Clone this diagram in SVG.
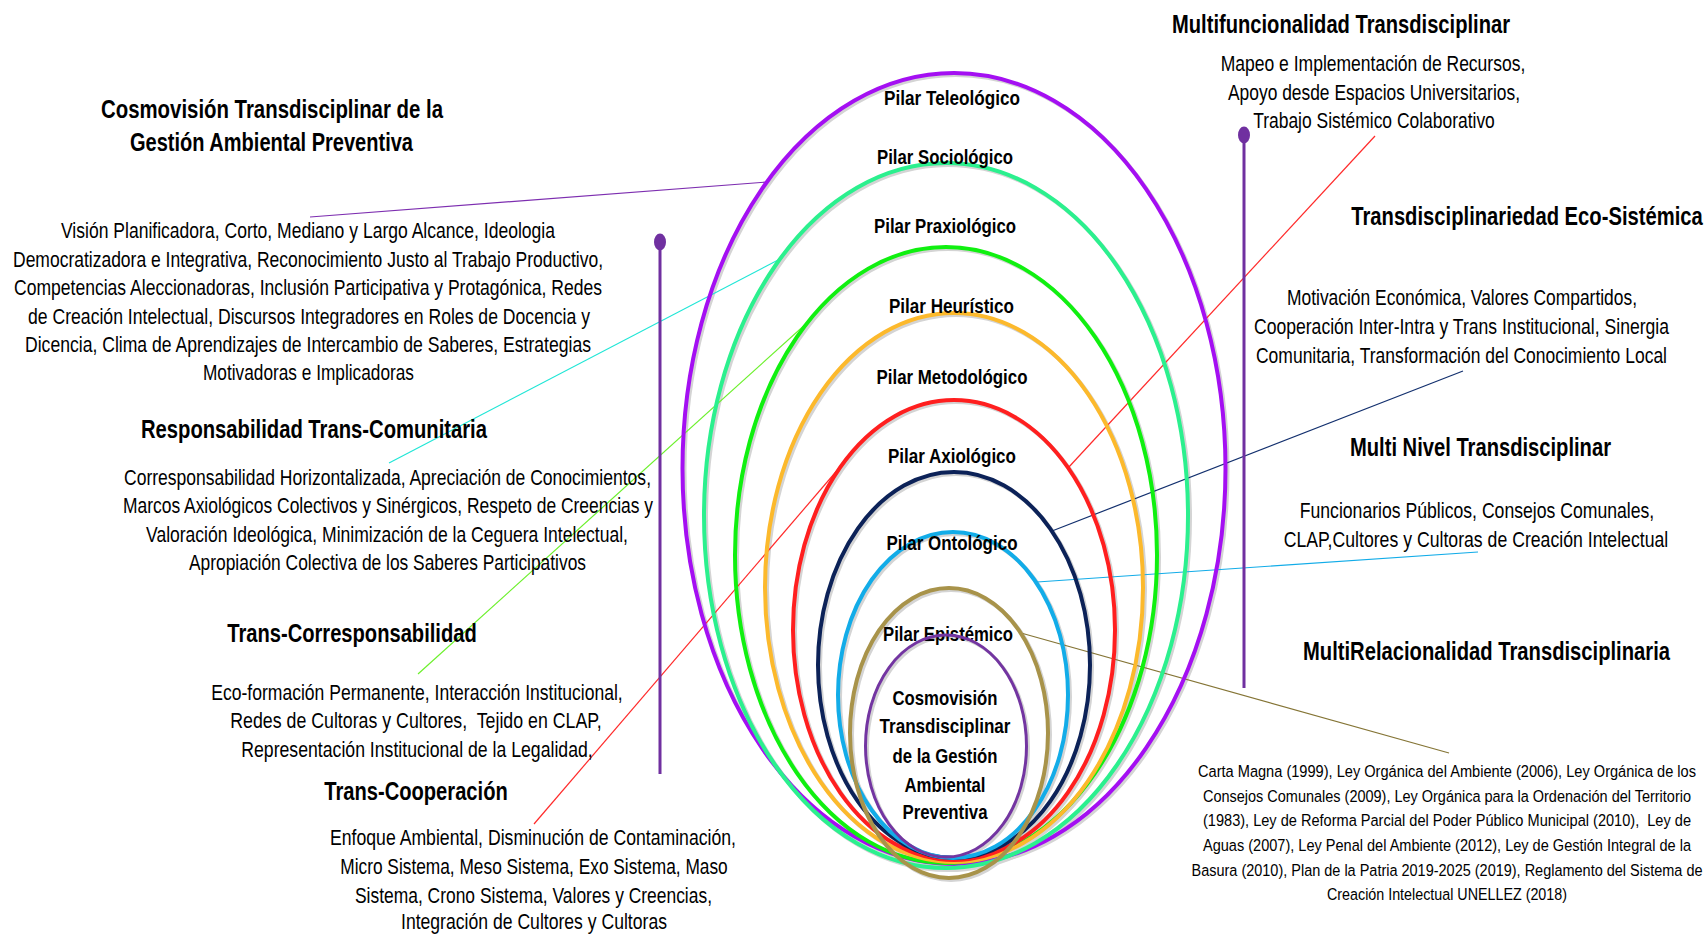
<svg xmlns="http://www.w3.org/2000/svg" width="1708" height="935" viewBox="0 0 1708 935">
<defs>
<style>
text{font-family:"Liberation Sans",Arial,sans-serif;fill:#000;text-anchor:middle}
.t{font-size:20.5px;font-weight:bold}
.b{font-size:18px}
.s{font-size:13.93px}
.p{font-size:17.2px;font-weight:bold}
.ring{fill:none;stroke-width:4}
.sh{fill:none;stroke:#d4d4d4;stroke-width:4}
.con{stroke-width:1.2;fill:none}
.vline{stroke:#7030A0;stroke-width:3}
</style>
</defs>
<rect width="1708" height="935" fill="#fff"/>

<g id="shadows" transform="translate(2,2)">
<ellipse class="sh" cx="954" cy="468.5" rx="271.5" ry="395.5"/>
<ellipse class="sh" cx="946" cy="515.5" rx="242" ry="352.5"/>
<ellipse class="sh" cx="946" cy="555" rx="211" ry="308"/>
<ellipse class="sh" cx="954" cy="587.5" rx="189" ry="274.5"/>
<ellipse class="sh" cx="954" cy="630" rx="161" ry="230"/>
<ellipse class="sh" cx="954" cy="665" rx="136" ry="193"/>
<ellipse class="sh" cx="953" cy="695" rx="115" ry="163"/>
<ellipse class="sh" cx="949" cy="733" rx="99" ry="145"/>
<ellipse class="sh" cx="946" cy="746" rx="80.5" ry="111" style="stroke-width:3"/>
</g>

<g id="connectors">
<line class="con" x1="310" y1="217" x2="767" y2="182" stroke="#7D2EB0"/>
<line class="con" x1="389" y1="463" x2="780" y2="259" stroke="#20E6D6"/>
<line class="con" x1="418" y1="674" x2="808" y2="322" stroke="#6CF02C"/>
<line class="con" x1="534" y1="824" x2="840" y2="467" stroke="#FF2A2A"/>
<line class="con" x1="1375" y1="136" x2="1068" y2="468" stroke="#FF2A2A"/>
<line class="con" x1="1463" y1="371" x2="1052" y2="531" stroke="#13306E"/>
<line class="con" x1="1478" y1="552" x2="1037" y2="582" stroke="#12ACE8"/>
<line class="con" x1="1021" y1="633" x2="1449" y2="753" stroke="#857536"/>
</g>

<g id="axis-left">
<line class="vline" x1="660" y1="242" x2="660" y2="774"/>
<ellipse cx="660" cy="242" rx="6" ry="8.5" fill="#7030A0"/>
</g>
<g id="axis-right">
<line class="vline" x1="1244" y1="135" x2="1244" y2="688"/>
<ellipse cx="1244" cy="135" rx="6" ry="8.5" fill="#7030A0"/>
</g>

<g id="pilar-teleologico">
<ellipse class="ring" cx="954" cy="468.5" rx="271.5" ry="395.5" stroke="#A40FF2"/>
<text class="p" transform="scale(1,1.22)" x="952" y="86.07" textLength="136" lengthAdjust="spacingAndGlyphs">Pilar Teleológico</text>
</g>
<g id="pilar-sociologico">
<ellipse class="ring" cx="946" cy="515.5" rx="242" ry="352.5" stroke="#2BF08E"/>
<text class="p" transform="scale(1,1.22)" x="945" y="134.43" textLength="136" lengthAdjust="spacingAndGlyphs">Pilar Sociológico</text>
</g>
<g id="pilar-praxiologico">
<ellipse class="ring" cx="946" cy="555" rx="211" ry="308" stroke="#10F010"/>
<text class="p" transform="scale(1,1.22)" x="945" y="190.98" textLength="142" lengthAdjust="spacingAndGlyphs">Pilar Praxiológico</text>
</g>
<g id="pilar-heuristico">
<ellipse class="ring" cx="954" cy="587.5" rx="189" ry="274.5" stroke="#FCB92C"/>
<text class="p" transform="scale(1,1.22)" x="951.5" y="256.56" textLength="125" lengthAdjust="spacingAndGlyphs">Pilar Heurístico</text>
</g>
<g id="pilar-metodologico">
<ellipse class="ring" cx="954" cy="630" rx="161" ry="230" stroke="#FF1F1F"/>
<text class="p" transform="scale(1,1.22)" x="952" y="314.75" textLength="151" lengthAdjust="spacingAndGlyphs">Pilar Metodológico</text>
</g>
<g id="pilar-axiologico">
<ellipse class="ring" cx="954" cy="665" rx="136" ry="193" stroke="#0C2258"/>
<text class="p" transform="scale(1,1.22)" x="952" y="379.51" textLength="128" lengthAdjust="spacingAndGlyphs">Pilar Axiológico</text>
</g>
<g id="pilar-ontologico">
<ellipse class="ring" cx="953" cy="695" rx="115" ry="163" stroke="#12ACE8"/>
<text class="p" transform="scale(1,1.22)" x="952" y="450.82" textLength="131" lengthAdjust="spacingAndGlyphs">Pilar Ontológico</text>
</g>
<g id="pilar-epistemico">
<ellipse class="ring" cx="949" cy="733" rx="99" ry="145" stroke="#A8934A"/>
<text class="p" transform="scale(1,1.22)" x="948" y="525.41" textLength="130" lengthAdjust="spacingAndGlyphs">Pilar Epistémico</text>
</g>
<g id="nucleo">
<ellipse class="ring" cx="946" cy="746" rx="80.5" ry="111" stroke="#7335A1" style="stroke-width:3"/>
<text class="p" transform="scale(1,1.22)" x="945" y="577.87" textLength="105" lengthAdjust="spacingAndGlyphs">Cosmovisión</text>
<text class="p" transform="scale(1,1.22)" x="945" y="600.82" textLength="131" lengthAdjust="spacingAndGlyphs">Transdisciplinar</text>
<text class="p" transform="scale(1,1.22)" x="945" y="625.41" textLength="105" lengthAdjust="spacingAndGlyphs">de la Gestión</text>
<text class="p" transform="scale(1,1.22)" x="945" y="649.18" textLength="81" lengthAdjust="spacingAndGlyphs">Ambiental</text>
<text class="p" transform="scale(1,1.22)" x="945" y="671.31" textLength="85" lengthAdjust="spacingAndGlyphs">Preventiva</text>
</g>

<g id="cosmovision">
<text class="t" transform="scale(1,1.22)" x="272" y="96.72" textLength="342" lengthAdjust="spacingAndGlyphs">Cosmovisión Transdisciplinar de la</text>
<text class="t" transform="scale(1,1.22)" x="271.5" y="123.77" textLength="283" lengthAdjust="spacingAndGlyphs">Gestión Ambiental Preventiva</text>
<text class="b" transform="scale(1,1.22)" x="308" y="195.08" textLength="494" lengthAdjust="spacingAndGlyphs">Visión Planificadora, Corto, Mediano y Largo Alcance, Ideologia</text>
<text class="b" transform="scale(1,1.22)" x="308" y="218.85" textLength="590" lengthAdjust="spacingAndGlyphs">Democratizadora e Integrativa, Reconocimiento Justo al Trabajo Productivo,</text>
<text class="b" transform="scale(1,1.22)" x="308" y="241.80" textLength="588" lengthAdjust="spacingAndGlyphs">Competencias Aleccionadoras, Inclusión Participativa y Protagónica, Redes</text>
<text class="b" transform="scale(1,1.22)" x="309" y="265.57" textLength="562" lengthAdjust="spacingAndGlyphs">de Creación Intelectual, Discursos Integradores en Roles de Docencia y</text>
<text class="b" transform="scale(1,1.22)" x="308" y="288.52" textLength="566" lengthAdjust="spacingAndGlyphs">Dicencia, Clima de Aprendizajes de Intercambio de Saberes, Estrategias</text>
<text class="b" transform="scale(1,1.22)" x="308.5" y="311.48" textLength="211" lengthAdjust="spacingAndGlyphs">Motivadoras e Implicadoras</text>
</g>

<g id="responsabilidad">
<text class="t" transform="scale(1,1.22)" x="314" y="359.02" textLength="346" lengthAdjust="spacingAndGlyphs">Responsabilidad Trans-Comunitaria</text>
<text class="b" transform="scale(1,1.22)" x="387.5" y="397.54" textLength="527" lengthAdjust="spacingAndGlyphs">Corresponsabilidad Horizontalizada, Apreciación de Conocimientos,</text>
<text class="b" transform="scale(1,1.22)" x="388" y="420.49" textLength="530" lengthAdjust="spacingAndGlyphs">Marcos Axiológicos Colectivos y Sinérgicos, Respeto de Creencias y</text>
<text class="b" transform="scale(1,1.22)" x="387" y="444.26" textLength="482" lengthAdjust="spacingAndGlyphs">Valoración Ideológica, Minimización de la Ceguera Intelectual,</text>
<text class="b" transform="scale(1,1.22)" x="387.5" y="467.21" textLength="397" lengthAdjust="spacingAndGlyphs">Apropiación Colectiva de los Saberes Participativos</text>
</g>

<g id="trans-corresponsabilidad">
<text class="t" transform="scale(1,1.22)" x="352" y="526.23" textLength="249.5" lengthAdjust="spacingAndGlyphs">Trans-Corresponsabilidad</text>
<text class="b" transform="scale(1,1.22)" x="417" y="573.77" textLength="411.5" lengthAdjust="spacingAndGlyphs">Eco-formación Permanente, Interacción Institucional,</text>
<text class="b" transform="scale(1,1.22)" x="416" y="596.72" textLength="371.5" lengthAdjust="spacingAndGlyphs" xml:space="preserve">Redes de Cultoras y Cultores,  Tejido en CLAP,</text>
<text class="b" transform="scale(1,1.22)" x="417" y="620.49" textLength="351.5" lengthAdjust="spacingAndGlyphs">Representación Institucional de la Legalidad,</text>
</g>

<g id="trans-cooperacion">
<text class="t" transform="scale(1,1.22)" x="416" y="655.74" textLength="183.5" lengthAdjust="spacingAndGlyphs">Trans-Cooperación</text>
<text class="b" transform="scale(1,1.22)" x="533" y="692.62" textLength="406" lengthAdjust="spacingAndGlyphs">Enfoque Ambiental, Disminución de Contaminación,</text>
<text class="b" transform="scale(1,1.22)" x="534" y="716.39" textLength="387.5" lengthAdjust="spacingAndGlyphs">Micro Sistema, Meso Sistema, Exo Sistema, Maso</text>
<text class="b" transform="scale(1,1.22)" x="533.5" y="740.16" textLength="357" lengthAdjust="spacingAndGlyphs">Sistema, Crono Sistema, Valores y Creencias,</text>
<text class="b" transform="scale(1,1.22)" x="534" y="761.5" textLength="266" lengthAdjust="spacingAndGlyphs">Integración de Cultores y Cultoras</text>
</g>

<g id="multifuncionalidad">
<text class="t" transform="scale(1,1.22)" x="1341" y="27.05" textLength="338" lengthAdjust="spacingAndGlyphs">Multifuncionalidad Transdisciplinar</text>
<text class="b" transform="scale(1,1.22)" x="1373" y="58.20" textLength="304.6" lengthAdjust="spacingAndGlyphs">Mapeo e Implementación de Recursos,</text>
<text class="b" transform="scale(1,1.22)" x="1374" y="81.97" textLength="292" lengthAdjust="spacingAndGlyphs">Apoyo desde Espacios Universitarios,</text>
<text class="b" transform="scale(1,1.22)" x="1374" y="104.92" textLength="241.6" lengthAdjust="spacingAndGlyphs">Trabajo Sistémico Colaborativo</text>
</g>

<g id="eco-sistemica">
<text class="t" transform="scale(1,1.22)" x="1527" y="184.43" textLength="351.6" lengthAdjust="spacingAndGlyphs">Transdisciplinariedad Eco-Sistémica</text>
<text class="b" transform="scale(1,1.22)" x="1462" y="250.0" textLength="350" lengthAdjust="spacingAndGlyphs">Motivación Económica, Valores Compartidos,</text>
<text class="b" transform="scale(1,1.22)" x="1461.5" y="273.77" textLength="415" lengthAdjust="spacingAndGlyphs">Cooperación Inter-Intra y Trans Institucional, Sinergia</text>
<text class="b" transform="scale(1,1.22)" x="1461.5" y="297.54" textLength="411" lengthAdjust="spacingAndGlyphs">Comunitaria, Transformación del Conocimiento Local</text>
</g>

<g id="multinivel">
<text class="t" transform="scale(1,1.22)" x="1480.5" y="373.77" textLength="261" lengthAdjust="spacingAndGlyphs">Multi Nivel Transdisciplinar</text>
<text class="b" transform="scale(1,1.22)" x="1477" y="424.59" textLength="354.5" lengthAdjust="spacingAndGlyphs">Funcionarios Públicos, Consejos Comunales,</text>
<text class="b" transform="scale(1,1.22)" x="1476" y="448.36" textLength="384.5" lengthAdjust="spacingAndGlyphs">CLAP,Cultores y Cultoras de Creación Intelectual</text>
</g>

<g id="multirelacionalidad">
<text class="t" transform="scale(1,1.22)" x="1486.5" y="540.98" textLength="367" lengthAdjust="spacingAndGlyphs">MultiRelacionalidad Transdisciplinaria</text>
<text class="s" transform="scale(1,1.22)" x="1447" y="636.89" textLength="498" lengthAdjust="spacingAndGlyphs">Carta Magna (1999), Ley Orgánica del Ambiente (2006), Ley Orgánica de los</text>
<text class="s" transform="scale(1,1.22)" x="1447" y="657.38" textLength="488" lengthAdjust="spacingAndGlyphs">Consejos Comunales (2009), Ley Orgánica para la Ordenación del Territorio</text>
<text class="s" transform="scale(1,1.22)" x="1447" y="677.46" textLength="488" lengthAdjust="spacingAndGlyphs" xml:space="preserve">(1983), Ley de Reforma Parcial del Poder Público Municipal (2010),  Ley de</text>
<text class="s" transform="scale(1,1.22)" x="1447" y="697.54" textLength="488" lengthAdjust="spacingAndGlyphs">Aguas (2007), Ley Penal del Ambiente (2012), Ley de Gestión Integral de la</text>
<text class="s" transform="scale(1,1.22)" x="1447" y="718.03" textLength="511" lengthAdjust="spacingAndGlyphs">Basura (2010), Plan de la Patria 2019-2025 (2019), Reglamento del Sistema de</text>
<text class="s" transform="scale(1,1.22)" x="1447" y="737.70" textLength="240" lengthAdjust="spacingAndGlyphs">Creación Intelectual UNELLEZ (2018)</text>
</g>
</svg>
